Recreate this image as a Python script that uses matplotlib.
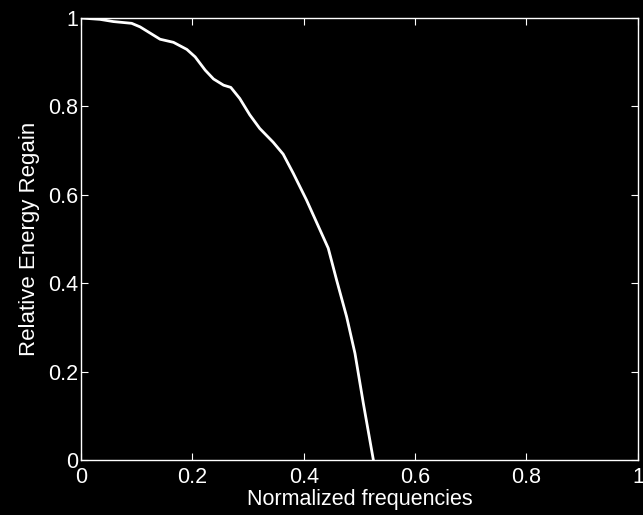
import matplotlib
matplotlib.use("Agg")
import matplotlib.pyplot as plt

freq = [0.0, 0.034, 0.058, 0.091, 0.106, 0.142, 0.166, 0.19, 0.205, 0.223, 0.238,
        0.256, 0.269, 0.285, 0.303, 0.321, 0.345, 0.363, 0.381, 0.405, 0.444,
        0.459, 0.477, 0.492, 0.507, 0.525]
energy = [1.0, 0.997, 0.992, 0.988, 0.98, 0.952, 0.945, 0.929, 0.912, 0.882, 0.862,
          0.848, 0.843, 0.818, 0.781, 0.750, 0.719, 0.692, 0.649, 0.588, 0.479,
          0.407, 0.324, 0.241, 0.128, 0.0]
xticks = [0, 0.2, 0.4, 0.6, 0.8, 1]
xticklabels = ["0", "0.2", "0.4", "0.6", "0.8", "1"]
yticks = [0, 0.2, 0.4, 0.6, 0.8, 1]
yticklabels = ["0", "0.2", "0.4", "0.6", "0.8", "1"]

plt.rcParams['font.family'] = ['Liberation Sans', 'DejaVu Sans']

fig = plt.figure(figsize=(6.43, 5.15), dpi=100, facecolor='black')
ax = fig.add_axes([0.126, 0.107, 0.866, 0.858], facecolor='black')
ax.plot(freq, energy, color='white', linewidth=2.0)
ax.set_xlim(0, 1)
ax.set_ylim(0, 1)
ax.set_xticks(xticks)
ax.set_xticklabels(xticklabels)
ax.set_yticks(yticks)
ax.set_yticklabels(yticklabels)
for s in ax.spines.values():
    s.set_color('white')
    s.set_linewidth(1.0)
ax.tick_params(direction='in', length=5, width=0.8, colors='white',
               labelsize=15.5, top=True, right=True)
ax.tick_params(axis='x', pad=5)
ax.tick_params(axis='y', pad=2)
ax.set_xlabel("Normalized frequencies", color='white', fontsize=15.5, labelpad=1)
ax.set_ylabel("Relative Energy Regain", color='white', fontsize=16, labelpad=6)
fig.savefig("out.png", dpi=100, facecolor='black')
